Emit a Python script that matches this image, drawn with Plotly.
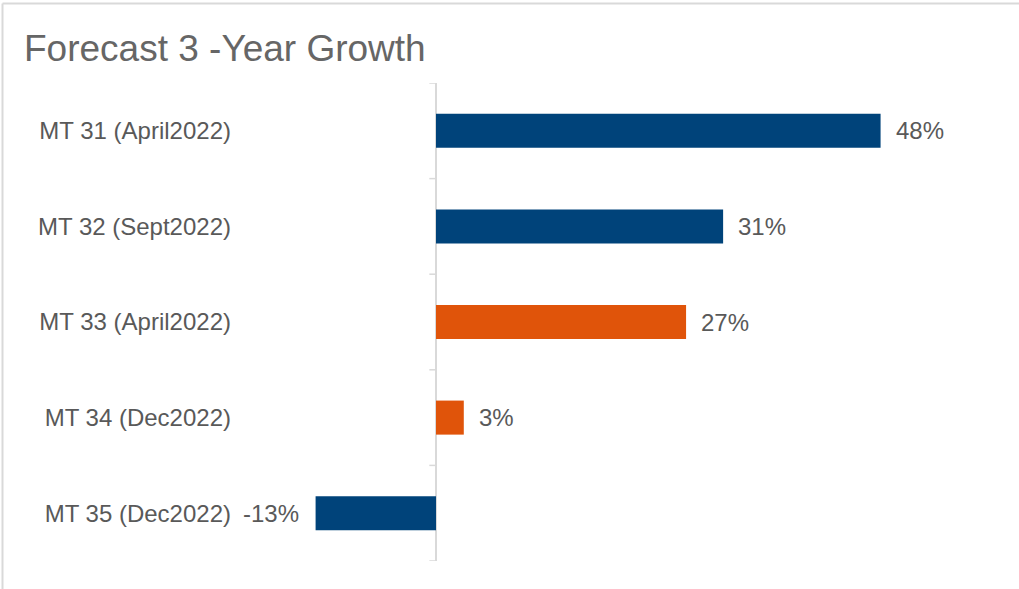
import plotly.graph_objects as go

# Forecast values (percent) per model run
categories = ["MT 31 (April2022)", "MT 32 (Sept2022)", "MT 33 (April2022)",
              "MT 34 (Dec2022)", "MT 35 (Dec2022)"]
growth = [48, 31, 27, 3, -13]
bar_colors = ["#00437a", "#00437a", "#e0540a", "#e0540a", "#00437a"]

TEXT = "#595959"
FONT = "Liberation Sans, Arial, sans-serif"
W, H = 1019, 589
L, R, T, B = 236, 19, 83, 28
PW, PH = W - L - R, H - T - B

fig = go.Figure(go.Bar(
    x=growth, y=categories, orientation="h",
    marker=dict(color=bar_colors, line=dict(width=0)),
    hoverinfo="skip",
))

# value labels beside each bar
for cat, v in zip(categories, growth):
    fig.add_annotation(
        x=v, y=cat, xref="x", yref="y", text=f"{v}%", showarrow=False,
        xanchor="left" if v >= 0 else "right", xshift=13 if v >= 0 else -15,
        font=dict(size=24, color=TEXT, family=FONT),
    )

# small tick marks between categories on the zero axis
n = len(categories)
for i in range(n + 1):
    fig.add_shape(type="line", xref="x", yref="y", x0=-0.72, x1=0,
                  y0=i - 0.5, y1=i - 0.5, line=dict(color="#d9d9d9", width=1.5))

# light frame along the top and left edges
def px_x(px):
    return (px - L) / PW

def px_y(py):
    return (H - B - py) / PH

fig.add_shape(type="line", xref="paper", yref="paper",
              x0=px_x(2.5), x1=px_x(W), y0=px_y(3.5), y1=px_y(3.5),
              line=dict(color="#d9d9d9", width=2))
fig.add_shape(type="line", xref="paper", yref="paper",
              x0=px_x(2.5), x1=px_x(2.5), y0=px_y(3.5), y1=px_y(H),
              line=dict(color="#d9d9d9", width=2))

fig.update_layout(
    width=W, height=H,
    margin=dict(l=L, r=R, t=T, b=B),
    paper_bgcolor="white", plot_bgcolor="white",
    bargap=0.644,
    showlegend=False,
    title=dict(text="Forecast 3 -Year Growth", xref="container", yref="container",
               x=24 / W, xanchor="left", y=1 - 48 / H, yanchor="middle",
               font=dict(size=37, color="#666666", family=FONT)),
    xaxis=dict(range=[-200 / 9.262, (W - R - L - 200) / 9.262],
               showgrid=False, showticklabels=False, ticks="",
               zeroline=True, zerolinecolor="#d9d9d9", zerolinewidth=1.5,
               fixedrange=True),
    yaxis=dict(categoryorder="array", categoryarray=categories,
               range=[n - 0.5, -0.5], showgrid=False, zeroline=False,
               ticks="", ticklabelstandoff=4,
               tickfont=dict(size=24, color=TEXT, family=FONT),
               fixedrange=True),
)

fig.write_html("out.html")
